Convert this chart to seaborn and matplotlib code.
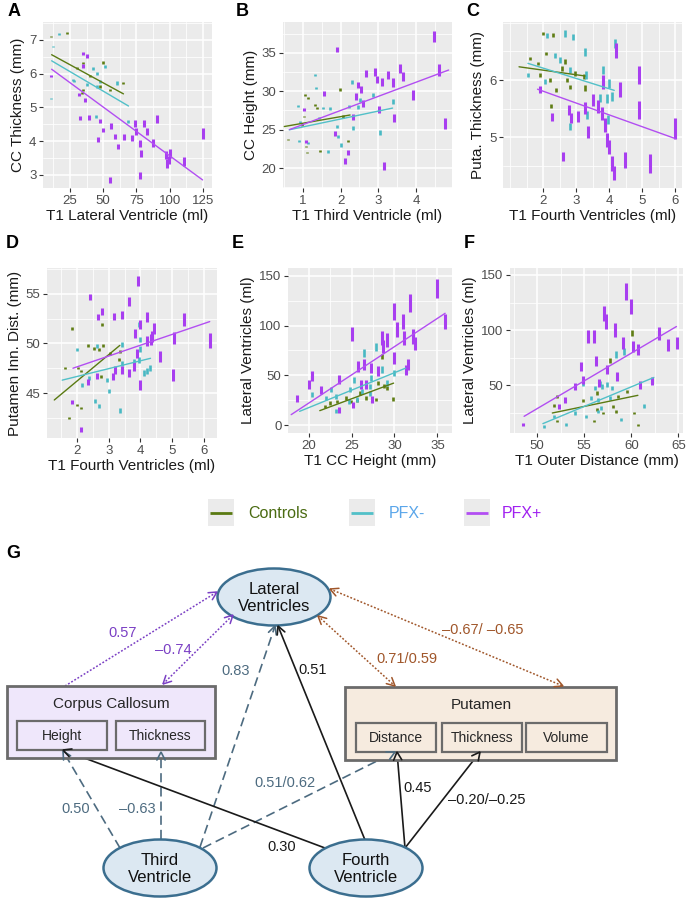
import numpy as np
import pandas as pd
import matplotlib
matplotlib.use("Agg")
import matplotlib.pyplot as plt
import seaborn as sns
from matplotlib.patches import Ellipse, Rectangle

# ---------------- data ----------------
groups = ["Controls", "PFX-", "PFX+"]

A_ctrl_x = [11, 22.5, 30, 34.5, 33.8, 35, 40, 50, 55, 65, 47.6]
A_ctrl_y = [7.1, 7.2, 6.16, 6.31, 5.42, 5.52, 5.93, 6.33, 5.52, 5.72, 5.62]
A_neg_x = [10.4, 12.4, 17, 27, 37.6, 42, 45.1, 45.1, 47.6, 51.4, 60.2, 69, 44.6, 28]
A_neg_y = [5.27, 6.8, 7.18, 5.81, 5.67, 6.16, 6.01, 5.62, 5.77, 6.21, 5.72, 4.58, 4.73, 5.77]
A_pos_x = [11, 34.5, 37.6, 34.5, 31.8, 36.6, 32.5, 39.6, 45.9, 47.6, 50.1, 55.7, 55.2, 58.9, 61.4, 65.7,
           71.5, 74, 74.7, 77.8, 78.4, 80.3, 82.8, 87.3, 90.8, 77.3, 97.1, 97.9, 99.1, 100.4, 110.4, 124.7]
A_pos_y = [5.94, 6.6, 6.53, 6.23, 5.38, 5.22, 4.68, 4.7, 4.04, 4.6, 4.33, 4.45, 2.85, 4.14, 3.84, 4.12,
           4.09, 4.53, 4.28, 3.94, 3.64, 4.53, 4.28, 3.94, 4.65, 2.98, 3.59, 3.34, 3.44, 3.64, 3.4, 4.23]
A_fit = {"Controls": [11.2, 65.2, 6.56, 5.40], "PFX-": [11.2, 69, 6.38, 5.04], "PFX+": [11.2, 124.7, 6.13, 2.85]}

B_ctrl_x = [1.02, 1.04, 1.13, 1.31, 1.36, 1.98, 2.07, 1.09, 1.10, 1.45, 2.2, 0.96, 0.6]
B_ctrl_y = [26.7, 29.5, 29.1, 28.2, 27.8, 30.2, 26.7, 22.8, 22.0, 22.2, 23.5, 25.6, 23.7]
B_neg_x = [0.87, 0.91, 1.31, 1.34, 1.43, 1.53, 1.71, 1.89, 1.93, 2.02, 2.23, 2.29, 2.47, 2.51, 2.32,
           2.87, 3.05, 3.39, 0.88, 1.67, 1.13]
B_neg_y = [28.1, 26.0, 32.1, 30.4, 26.5, 27.8, 27.8, 25.4, 24.1, 23.0, 28.0, 31.2, 28.0, 28.9, 25.2,
           29.5, 24.6, 28.6, 23.5, 22.2, 23.3]
B_pos_x = [1.02, 1.07, 1.56, 1.89, 1.85, 2.11, 2.2, 2.42, 2.47, 2.53, 2.6, 2.67, 2.91, 2.96, 3.1, 3.27,
           3.38, 3.03, 3.15, 3.43, 3.58, 3.65, 3.92, 4.47, 4.61, 4.77, 2.32]
B_pos_y = [27.6, 23.5, 29.7, 35.4, 24.5, 20.9, 22.0, 29.3, 30.8, 30.2, 28.4, 32.3, 32.5, 31.5, 31.2, 32.1,
           31.1, 27.6, 20.3, 26.5, 33.0, 31.9, 29.5, 37.1, 32.75, 25.8, 26.7]
B_fit = {"Controls": [0.5, 2.25, 25.4, 26.9], "PFX-": [0.63, 3.38, 24.97, 27.8], "PFX+": [0.64, 4.87, 25.0, 32.75]}

C_ctrl_x = [2.0, 2.1, 2.2, 2.25, 2.4, 2.56, 2.66, 2.71, 2.81, 2.96, 3.27, 2.3, 1.9, 1.59, 1.85, 3.24]
C_ctrl_y = [6.81, 6.46, 6.0, 5.54, 5.83, 6.2, 6.32, 6.0, 5.88, 6.12, 5.86, 6.78, 6.09, 6.38, 6.29, 6.06]
C_neg_x = [1.54, 2.05, 2.12, 2.35, 2.51, 2.66, 2.81, 2.91, 3.27, 3.3, 3.34, 2.81, 3.82, 4.0, 3.92, 4.18,
           4.08, 3.72, 3.97]
C_neg_y = [6.09, 5.97, 6.78, 6.43, 6.35, 6.81, 6.17, 6.75, 6.49, 6.09, 5.39, 5.19, 6.17, 5.94, 5.68, 6.64,
           5.71, 5.68, 5.31]
C_pos_x = [1.9, 2.28, 2.61, 2.79, 2.83, 3.06, 3.27, 3.37, 3.5, 3.67, 3.77, 3.82, 3.87, 3.92, 4.0, 4.08,
           4.13, 4.21, 4.33, 4.48, 4.89, 4.89, 5.22, 6.0]
C_pos_y = [5.83, 5.35, 4.67, 5.48, 5.34, 5.36, 5.51, 5.1, 5.65, 5.54, 5.42, 5.97, 5.22, 4.96, 4.84, 4.55,
           4.38, 6.52, 5.83, 4.61, 5.48, 6.09, 4.55, 5.16]
C_fit = {"Controls": [1.27, 3.27, 6.23, 6.07], "PFX-": [1.54, 4.15, 6.29, 5.82], "PFX+": [1.83, 6.0, 5.84, 4.98]}

D_ctrl_x = [1.84, 1.74, 1.63, 2.02, 2.13, 2.34, 2.53, 2.68, 2.79, 2.74, 2.82, 3.05, 3.32, 3.35, 2.0, 2.13]
D_ctrl_y = [51.5, 42.5, 47.5, 47.5, 47.2, 49.8, 49.5, 49.4, 51.9, 46.7, 49.8, 49.0, 48.4, 49.2, 43.8, 43.5]
D_neg_x = [2.0, 2.16, 2.37, 2.58, 2.63, 2.68, 2.93, 3.0, 3.35, 3.42, 3.42, 3.79, 3.95, 4.0, 4.1, 4.21,
           4.3, 3.95, 4.0]
D_neg_y = [49.4, 45.8, 46.5, 44.2, 49.7, 43.7, 46.3, 45.2, 43.2, 49.9, 48.0, 48.2, 51.9, 50.4, 47.0, 47.2,
           47.5, 48.3, 49.4]
D_pos_x = [2.42, 1.84, 2.11, 2.66, 2.79, 2.63, 3.16, 3.42, 3.63, 3.93, 3.14, 3.21, 3.42, 3.63, 3.79, 3.84,
           3.89, 3.98, 4.0, 4.21, 4.21, 4.32, 4.37, 4.44, 4.63, 5.03, 5.05, 5.37, 6.19, 2.34]
D_pos_y = [54.7, 44.1, 41.3, 52.7, 53.2, 46.7, 52.7, 52.9, 54.2, 56.3, 46.7, 47.3, 47.3, 47.0, 47.7, 51.0,
           49.0, 51.9, 45.8, 52.7, 50.2, 50.4, 50.7, 51.5, 48.7, 46.8, 50.5, 52.4, 50.3, 46.1]
D_fit = {"Controls": [1.28, 3.35, 44.3, 49.8], "PFX-": [1.53, 4.32, 46.3, 48.5], "PFX+": [1.87, 6.19, 47.5, 52.2]}

E_ctrl_x = [21.9, 22.5, 23.3, 24.4, 24.9, 25.6, 26.0, 26.7, 27.9, 28.1, 28.6, 28.8, 29.1, 29.8]
E_ctrl_y = [19, 22.3, 24, 27.3, 24, 25, 32.3, 27.3, 25.7, 42.3, 69, 39, 37.3, 26.3]
E_neg_x = [20.4, 22.0, 22.6, 23.2, 24.8, 25.3, 25.6, 26.5, 27.3, 27.9, 27.1, 28.5, 29.1, 29.9, 23.2, 24.7,
           27.1, 26.2]
E_neg_y = [30.7, 27.3, 35.7, 14, 35.7, 45.7, 25.7, 72.3, 47.3, 79, 39, 55.7, 42.3, 52.3, 29, 24, 31.7, 34]
E_pos_x = [18.6, 20.1, 20.4, 21.5, 23.5, 23.5, 25.1, 25.2, 25.8, 26.1, 26.4, 26.7, 27.3, 27.4, 28.1, 28.5,
           28.7, 29.1, 29.9, 30.0, 30.3, 31.0, 31.1, 31.4, 31.8, 32.1, 32.4, 35.0, 35.9, 31.6]
E_pos_y = [27.3, 40.7, 49.7, 35.7, 45.7, 15.7, 91.7, 20.7, 59, 40.7, 60.7, 40.7, 57.3, 25.7, 54, 87.3,
           79, 85.7, 114, 67.3, 95.7, 104, 87.3, 55.7, 122.3, 89, 82.3, 137.3, 104, 61]
E_fit = {"Controls": [21.3, 29.9, 14.7, 42.3], "PFX-": [18.95, 31.3, 14, 57.3], "PFX+": [17.97, 35.9, 10.7, 112.3]}

F_ctrl_x = [52.1, 51.8, 52.1, 54.9, 56.0, 56.3, 56.4, 57.0, 57.7, 58.1, 58.4, 59.5, 60.1, 60.3, 60.7, 58.6]
F_ctrl_y = [40.1, 31.6, 17.5, 36.4, 17.5, 43.1, 28, 25, 72.6, 31, 26.5, 44.6, 97.3, 25, 14.5, 40.1]
F_neg_x = [50.7, 51.8, 53.1, 54.0, 54.9, 55.2, 55.7, 56.1, 56.5, 56.7, 56.9, 57.4, 57.7, 57.9, 58.4, 58.9,
           59.2, 61.3, 56.5, 56.8]
F_neg_y = [13, 22, 14.5, 25, 52.1, 22, 38.6, 47.6, 26.5, 52.1, 49.1, 50.6, 38.6, 47.6, 77.7, 19, 80.7, 31,
           37.1, 29.5]
F_pos_x = [48.5, 52.3, 53.0, 54.0, 54.6, 54.9, 55.4, 56.0, 56.2, 56.6, 57.1, 57.3, 57.4, 58.3, 58.5, 59.1,
           59.4, 60.0, 60.2, 60.7, 60.9, 62.2, 62.9, 63.9, 64.9]
F_pos_y = [14.5, 31, 37, 49.1, 67.2, 55.1, 94.3, 94.3, 71.7, 52.1, 115.4, 107.8, 64.2, 100.3, 58.1, 88.3,
           135, 121.4, 85.2, 82.2, 50.6, 53.6, 97.3, 86.7, 88.3]
F_fit = {"Controls": [51.6, 60.7, 25, 41], "PFX-": [50.6, 62.4, 15.4, 57.2], "PFX+": [48.6, 64.8, 22, 103.3]}

# ---------------- style ----------------
sns.set_style("darkgrid", {"axes.facecolor": "#EBEBEB", "grid.color": "white"})
plt.rcParams["font.family"] = ["Liberation Sans", "DejaVu Sans"]

pt_col = {"Controls": "#5f7d14", "PFX-": "#48b9c3", "PFX+": "#a83ef0"}
ln_col = {"Controls": "#5a7a12", "PFX-": "#52c0c8", "PFX+": "#b24ef2"}
pt_lw = {"Controls": 1.9, "PFX-": 1.9, "PFX+": 2.2}
seg_px = {"Controls": (2, 9), "PFX-": (2.5, 13), "PFX+": (3, 22)}

fig = plt.figure(figsize=(6.89, 9.0), dpi=100)
W, H = 689.0, 900.0


def add_ax(l, t, r, b):
    return fig.add_axes([l / W, 1 - b / H, (r - l) / W, (b - t) / H])


def panel(ax, ctrl, neg, pos, fits, xlim, ylim, xt, yt, xlabel, ylabel, size_axis, mult):
    data = {"Controls": ctrl, "PFX-": neg, "PFX+": pos}
    for g in groups:
        x, y = data[g]
        v = np.array(x if size_axis == "x" else y, dtype=float)
        lo, hi = xlim if size_axis == "x" else ylim
        t = np.clip((v - lo) / (hi - lo), 0, 1)
        a, b = seg_px[g]
        px = (a + (b - a) * t) * mult
        s = (px * 0.72) ** 2
        df = pd.DataFrame({"x": x, "y": y})
        sns.scatterplot(data=df, x="x", y="y", ax=ax, marker="|", s=s, color=pt_col[g],
                        linewidth=pt_lw[g], legend=False, zorder=3)
    for g in groups:
        x0, x1, y0, y1 = fits[g]
        sns.lineplot(x=[x0, x1], y=[y0, y1], ax=ax, color=ln_col[g], linewidth=1.0, zorder=4)
    ax.set_xlim(*xlim)
    ax.set_ylim(*ylim)
    ax.set_xticks(xt)
    ax.set_yticks(yt)
    dx = (xt[1] - xt[0]) / 2
    dy = (yt[1] - yt[0]) / 2
    ax.set_xticks([m for m in np.arange(xt[0] - 2 * dx, xlim[1] + dx, dx)
                   if xlim[0] < m < xlim[1] and not np.any(np.isclose(m, xt))], minor=True)
    ax.set_yticks([m for m in np.arange(yt[0] - 4 * dy, ylim[1] + dy, dy)
                   if ylim[0] < m < ylim[1] and not np.any(np.isclose(m, yt))], minor=True)
    ax.grid(which="major", color="white", linewidth=1.1)
    ax.grid(which="minor", color="white", linewidth=0.55)
    ax.tick_params(which="major", length=2.7, width=0.8, color="#333333", labelcolor="#4D4D4D",
                   labelsize=9.5, pad=2, bottom=True, left=True)
    ax.tick_params(which="minor", length=0)
    for sp in ax.spines.values():
        sp.set_visible(False)
    ax.set_xlabel(xlabel, fontsize=11, color="#1a1a1a", labelpad=2)
    ax.set_ylabel(ylabel, fontsize=11, color="#1a1a1a", labelpad=3)
    ax.set_axisbelow(True)


axA = add_ax(43, 22, 212, 188)
panel(axA, (A_ctrl_x, A_ctrl_y), (A_neg_x, A_neg_y), (A_pos_x, A_pos_y), A_fit,
      (4.7, 131.8), (2.61, 7.53), [25, 50, 75, 100, 125], [3, 4, 5, 6, 7],
      "T1 Lateral Ventricle (ml)", "CC Thickness (mm)", "x", 0.5)

axB = add_ax(283, 22, 452, 188)
panel(axB, (B_ctrl_x, B_ctrl_y), (B_neg_x, B_neg_y), (B_pos_x, B_pos_y), B_fit,
      (0.466, 4.96), (17.4, 39.0), [1, 2, 3, 4], [20, 25, 30, 35],
      "T1 Third Ventricle (ml)", "CC Height (mm)", "x", 0.55)

axC = add_ax(503, 22, 682, 188)
panel(axC, (C_ctrl_x, C_ctrl_y), (C_neg_x, C_neg_y), (C_pos_x, C_pos_y), C_fit,
      (0.785, 6.2), (4.12, 7.01), [2, 3, 4, 5, 6], [5, 6],
      "T1 Fourth Ventricles (ml)", "Puta. Thickness (mm)", "x", 1.0)

axD = add_ax(47, 268, 217, 438)
panel(axD, (D_ctrl_x, D_ctrl_y), (D_neg_x, D_neg_y), (D_pos_x, D_pos_y), D_fit,
      (1.05, 6.42), (40.47, 57.6), [2, 3, 4, 5, 6], [45, 50, 55],
      "T1 Fourth Ventricles (ml)", "Putamen Inn. Dist. (mm)", "x", 0.7)

axE = add_ax(288, 268, 452, 433)
panel(axE, (E_ctrl_x, E_ctrl_y), (E_neg_x, E_neg_y), (E_pos_x, E_pos_y), E_fit,
      (17.6, 36.7), (-7.7, 157.7), [20, 25, 30, 35], [0, 50, 100, 150],
      "T1 CC Height (mm)", "Lateral Ventricles (ml)", "y", 1.0)

axF = add_ax(510, 268, 683, 433)
panel(axF, (F_ctrl_x, F_ctrl_y), (F_neg_x, F_neg_y), (F_pos_x, F_pos_y), F_fit,
      (47.1, 65.5), (6.9, 156.3), [50, 55, 60, 65], [50, 100, 150],
      "T1 Outer Distance (mm)", "Lateral Ventricles (ml)", "y", 0.9)

# ---------------- overlay (letters, legend, diagram) ----------------
ov = fig.add_axes([0, 0, 1, 1], zorder=10)
ov.set_xlim(0, W)
ov.set_ylim(H, 0)
ov.axis("off")
ov.patch.set_alpha(0)

for lab, x, y in [("A", 8, 12), ("B", 236, 12), ("C", 466, 12), ("D", 6, 243), ("E", 232, 243),
                  ("F", 464, 243), ("G", 6, 553)]:
    ov.text(x, y, lab, fontsize=13, fontweight="bold", va="center", ha="left", color="black")

# legend
leg_items = [("Controls", 208, 248, "#4a6b12"), ("PFX-", 349, 389, "#5aa6ea"), ("PFX+", 464, 502, "#a020f0")]
for g, bx, tx, tc in leg_items:
    ov.add_patch(Rectangle((bx, 499), 26, 27, facecolor="#EBEBEB", edgecolor="none"))
    ov.plot([bx + 2, bx + 24], [512.5, 512.5], color=ln_col[g], linewidth=2.0, solid_capstyle="butt")
    ov.text(tx, 513, g, fontsize=11.5, color=tc, va="center", ha="left")

# diagram
ell_fc, ell_ec = "#dce8f2", "#3b6e8f"
for (cx, cy, txt) in [(274, 597, "Lateral\nVentricles"), (160, 868, "Third\nVentricle"),
                      (366, 868, "Fourth\nVentricle")]:
    ov.add_patch(Ellipse((cx, cy), 113, 57, facecolor=ell_fc, edgecolor=ell_ec, linewidth=1.8, zorder=3))
    ov.text(cx, cy + 1, txt, fontsize=12, ha="center", va="center", linespacing=1.2, zorder=4,
            color="#111111")

box_ec = "#6b6b6b"
ov.add_patch(Rectangle((7, 686), 208, 72, facecolor="#efe7fb", edgecolor=box_ec, linewidth=2.0, zorder=3))
ov.text(111, 704, "Corpus Callosum", fontsize=11, ha="center", va="center", zorder=4)
for (x0, w, t) in [(17, 90, "Height"), (116, 89, "Thickness")]:
    ov.add_patch(Rectangle((x0, 721), w, 29, facecolor="#efe7fb", edgecolor=box_ec, linewidth=1.6, zorder=4))
    ov.text(x0 + w / 2, 736, t, fontsize=10, ha="center", va="center", zorder=5)

ov.add_patch(Rectangle((345, 687), 271, 73, facecolor="#f6ebdf", edgecolor=box_ec, linewidth=2.0, zorder=3))
ov.text(481, 705, "Putamen", fontsize=11, ha="center", va="center", zorder=4)
for (x0, w, t) in [(356, 80, "Distance"), (442, 80, "Thickness"), (526, 81, "Volume")]:
    ov.add_patch(Rectangle((x0, 723), w, 29, facecolor="#f6ebdf", edgecolor=box_ec, linewidth=1.6, zorder=4))
    ov.text(x0 + w / 2, 738, t, fontsize=10, ha="center", va="center", zorder=5)


def head(xt, yt, xf, yf, color, lw):
    d = np.array([xt - xf, yt - yf], dtype=float)
    d /= np.linalg.norm(d)
    L, ang = 9.0, np.deg2rad(27)
    pts = []
    for sgn in (1, -1):
        c, s = np.cos(sgn * ang), np.sin(sgn * ang)
        r = np.array([c * d[0] - s * d[1], s * d[0] + c * d[1]])
        pts.append((xt - L * r[0], yt - L * r[1]))
    ov.plot([pts[0][0], xt, pts[1][0]], [pts[0][1], yt, pts[1][1]], color=color, linewidth=lw,
            solid_joinstyle="miter", zorder=6)


def link(x0, y0, x1, y1, color, ls, lw, both=False):
    ov.plot([x0, x1], [y0, y1], color=color, linestyle=ls, linewidth=lw, zorder=2)
    head(x1, y1, x0, y0, color, lw)
    if both:
        head(x0, y0, x1, y1, color, lw)


purple, brown, slate, black = "#7a3fc4", "#a0562a", "#4d6b80", "#1a1a1a"
dot = (0, (1.2, 1.2))
dash = (0, (5.5, 3))
link(65, 686, 217, 592, purple, dot, 1.1)
link(163, 684, 233, 615, purple, dot, 1.1, both=True)
link(318, 616, 395, 686, brown, dot, 1.1, both=True)
link(330, 589, 563, 686, brown, dot, 1.1, both=True)
link(120, 848, 63, 751, slate, dash, 1.2)
link(161, 839, 161, 752, slate, dash, 1.2)
link(200, 847, 275, 626, slate, dash, 1.2)
link(203, 848, 395, 752, slate, dash, 1.2)
link(325, 848, 63, 750, black, "-", 1.2)
link(365, 840, 278, 626, black, "-", 1.2)
link(405, 848, 397, 752, black, "-", 1.2)
link(405, 848, 480, 752, black, "-", 1.2)

for (x, y, t, c) in [(123, 633, "0.57", purple), (173, 650, "\u20130.74", purple), (236, 671, "0.83", slate),
                     (313, 670, "0.51", black), (407, 659, "0.71/0.59", brown),
                     (483, 630, "\u20130.67/ \u20130.65", brown), (76, 809, "0.50", slate),
                     (137, 809, "\u20130.63", slate), (285, 783, "0.51/0.62", slate), (282, 847, "0.30", black),
                     (418, 788, "0.45", black), (487, 800, "\u20130.20/\u20130.25", black)]:
    ov.text(x, y, t, fontsize=10.5, color=c, ha="center", va="center", zorder=7)

fig.savefig("out.png", dpi=100)
